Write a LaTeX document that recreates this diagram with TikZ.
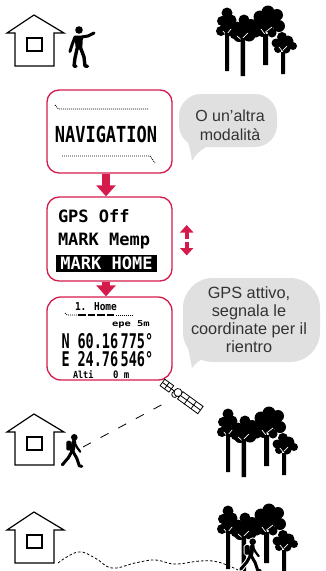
\documentclass[tikz,border=0pt]{standalone}
\usepackage{fontspec}
\setmainfont{Liberation Sans}
\newfontfamily\lcd{DejaVu Sans Mono}
\usepackage{graphicx}
\usetikzlibrary{arrows.meta}

\definecolor{alert}{HTML}{D51B4B}
\definecolor{cloud}{HTML}{E0E0E0}
\definecolor{speech}{HTML}{333333}

% walking hiker with backpack; #1 colour, #2 extra outline width
\newcommand\walkershape[2]{%
  \fill[#1] (0,0) circle ({3.3+#2});
  \draw[#1, line cap=round, line join=round, line width={4.6+2*#2}] (-0.3,4.5) -- (-2,13.5);
  \draw[#1, line cap=round, line join=round, line width={2.2+2*#2}] (0.3,5.5) -- (3,10.5) -- (6,14.5);
  \draw[#1, line cap=round, line join=round, line width={3+2*#2}] (-2,13.5) -- (-6,20.5) -- (-12,27.5);
  \draw[#1, line cap=round, line join=round, line width={3+2*#2}] (-1.5,14) -- (2.5,21) -- (5,28.5) -- (7.5,29);
  \filldraw[#1, rounded corners=1.5pt, line width={0.01+2*#2}] (-8,3.5) rectangle (-3,13);
}

\tikzset{
  screen/.style={draw=alert, line width=1.3pt, rounded corners=12pt, fill=white,
    minimum width=125pt, inner sep=0},
  lcdfont/.style={inner sep=0, outer sep=0, font=\lcd\bfseries\fontsize{#1}{#1}\selectfont},
  bubble/.style={fill=cloud, inner sep=0},
  saying/.style={inner sep=0, align=center, text=speech, font=\fontsize{16}{19}\selectfont},
  stepdown/.style={draw=alert, line width=8pt, -{Triangle[width=19pt,length=11pt]}},
  scroll/.style={draw=alert, line width=4pt, -{Triangle[width=13pt,length=7.5pt]}},
  pixeldots/.style={line width=0.9pt, dash pattern=on 0.9pt off 1.1pt},
  wall/.style={line width=1.2pt, line join=miter},
  signal/.style={line width=0.8pt, dash pattern=on 9pt off 11pt},
  trail/.style={line width=0.8pt, dash pattern=on 2.6pt off 2pt},
  twig/.style={white, line width=0.7pt, line cap=round},
  house/.pic={
    \draw[wall] (15,66) -- (15,33) -- (7,33) -- (34,15) -- (64,33) -- (54,33) -- (54,66) -- cycle;
    \draw[wall] (27,38) rectangle (42,51);
  },
  forest/.pic={
    % crowns
    \fill (10,8) circle (5.5) (5,16) circle (5) (14,15) circle (5.5)
          (4,26) circle (5) (12,25) circle (6) (18,21) circle (4) (10,18) circle (7);
    \fill (27,15) circle (5.5) (20,22) circle (5.5) (34,20) circle (6)
          (22,31) circle (6) (32,30) circle (6.5) (39,28) circle (4.5) (17,30) circle (4)
          (28,24) circle (8);
    \fill (51,7) circle (6.5) (43,12) circle (6.5) (60,10) circle (6)
          (40,21) circle (5) (50,20) circle (7) (62,21) circle (6)
          (55,28) circle (4.5) (45,28) circle (4) (52,15) circle (9);
    \fill (65,32) circle (5) (59,38) circle (4.5) (71,36) circle (5.5)
          (76,41) circle (4) (61,44) circle (4) (69,44) circle (4.5) (67,39) circle (6);
    % branches showing through the lower crowns
    \draw[twig] (10,31) -- (6,26) (10,29) -- (14,24);
    \draw[twig] (25.8,36) -- (20,31) (25.8,33) -- (31,28);
    \draw[twig] (48.5,30) -- (44,24) (48.5,27) -- (55,22);
    \draw[twig] (66,47) -- (62,42) (66,45) -- (70,41);
    % trunks
    \fill (8,28) rectangle (12,66)
          (23.7,33) rectangle (28,71)
          (46,29) rectangle (51,60)
          (64,47) rectangle (68,69);
  },
}

\begin{document}
\begin{tikzpicture}[x=1pt, y=-1pt]
\useasboundingbox (0,0) rectangle (325,571);

% ---------- top scene: at home, pointing at the woods ----------
\pic at (0,0) {house};
\begin{scope}[shift={(79,30)}]
  \fill (0,0) circle (3.8);
  \fill (-4.5,5.5) -- (4,5.5) -- (3.2,19.5) -- (-3.2,19.5) -- cycle;
  \draw[line width=3pt, line cap=round, line join=round] (3,7) -- (9,6) -- (15,3);
  \draw[line width=3pt, line cap=round, line join=round] (-4,7) -- (-7,15) -- (-9,21.5);
  \draw[line width=3.4pt, line cap=round, line join=round] (-2,19) -- (-4,28) -- (-5,36) -- (-3,36.3);
  \draw[line width=3.4pt, line cap=round, line join=round] (2,19) -- (5,27) -- (6,36) -- (8.5,36.3);
\end{scope}
\begin{scope}[shift={(217,5)}]
  \pic {forest};
\end{scope}

% ---------- device screens ----------
\node[screen, minimum height=83pt] (nav) at (109.5,131.5) {};
\node[lcdfont=17] (navtext) at (106,134.5) {\scalebox{1}[1.3]{NAVIGATION}};
\draw[pixeldots] (55,105) -- (58.5,109) -- (148,109);
\draw[pixeldots] (62,156) -- (150,156) -- (155,163);

\node[screen, minimum height=84pt] (menu) at (109.5,239) {};
\node[lcdfont=17, anchor=base west] (gpsoff) at (58,222.3) {GPS Off};
\node[lcdfont=17, anchor=base west] (markmemp) at (58,245.7) {MARK Memp};
\node[lcdfont=17, fill=black, text=white, minimum width=101pt, minimum height=17pt,
      anchor=west] (markhome) at (56,263.5) {MARK HOME};

\node[screen, minimum height=83pt, rounded corners=14pt] (gps) at (109.5,338.5) {};
\node[lcdfont=9.5, anchor=base west] (target) at (75,310) {\scalebox{1}[1.15]{1. Home}};
\draw[pixeldots] (65,313) -- (67,315) -- (78,315);
\draw[line width=2.5pt, dash pattern=on 7.5pt off 2pt] (78,315) -- (115,315);
\draw[pixeldots] (115.5,315) -- (133,315);
\node[lcdfont=9.5, anchor=base west] (epe) at (112,326.7) {\scalebox{1.1}[0.85]{epe 5m}};
\node[lcdfont=13.5, anchor=base west] (north) at (61.5,348) {\scalebox{1}[1.5]{N}};
\node[lcdfont=13.5, anchor=base west] (lat) at (77.5,348) {\scalebox{1}[1.5]{60.16\hspace{2.5pt}775°}};
\node[lcdfont=13.5, anchor=base west] (east) at (61.5,366.5) {\scalebox{1}[1.5]{E}};
\node[lcdfont=13.5, anchor=base west] (lon) at (77.5,366.5) {\scalebox{1}[1.5]{24.76\hspace{2.5pt}546°}};
\node[lcdfont=8.5, anchor=base west] (alti) at (73,378.5) {\scalebox{1}[1.15]{Alti}};
\node[lcdfont=9, anchor=base west] (zero) at (113,378.5) {\scalebox{1}[1.15]{0 m}};

% steps between screens
\draw[stepdown] ([xshift=-3.5pt]nav.south) -- ([xshift=-3.5pt]menu.north);
\draw[stepdown] ([xshift=-3.5pt]menu.south) -- ([xshift=-3.5pt]gps.north);
\coordinate (scrollup) at (186.7,225);
\coordinate (scrolldown) at (186.7,255.5);
\draw[scroll] (186.7,238.5) -- (scrollup);
\draw[scroll] (186.7,241.5) -- (scrolldown);

% ---------- speech bubbles ----------
\node[bubble, rounded corners=22pt, minimum width=98pt, minimum height=53pt] (say1) at (228,120.5) {};
\fill[cloud] (186,138) .. controls (190,148) .. (192,161) .. controls (197,153) .. (209,145) -- cycle;
\node[saying] (say1text) at (230,125) {O un’altra\\modalità};

\node[bubble, rounded corners=30pt, minimum width=137pt, minimum height=84pt] (say2) at (251.5,320) {};
\fill[cloud] (187,343) .. controls (190,357) .. (192,368) .. controls (198,361) .. (208,356) -- cycle;
\node[saying, font=\fontsize{16.3}{18}\selectfont] (say2text) at (249,320)
  {GPS attivo,\\segnala le\\coordinate per il\\rientro};

% ---------- middle scene: walking out, position fixed by satellite ----------
\pic at (0,399) {house};
\begin{scope}[shift={(74.3,437.3)}]
  \walkershape{black}{0}
\end{scope}
\begin{scope}[shift={(218,406)}, scale=0.87]
  \pic {forest};
\end{scope}
\coordinate (walkerA) at (83,447);
\coordinate (satellite) at (165,403);
\draw[signal] (walkerA) -- (satellite);
\begin{scope}[shift={(177,393)}, rotate=-36, line width=0.8pt]
  \filldraw[fill=white] (-18,-4) rectangle (-7,4);
  \draw (-12.5,-4) -- (-12.5,4) (-18,0) -- (-7,0);
  \draw (-7,0) -- (-3,0);
  \filldraw[fill=white] (4,-4.5) rectangle (29,4.5);
  \draw (12.3,-4.5) -- (12.3,4.5) (20.6,-4.5) -- (20.6,4.5) (4,0) -- (29,0);
  \filldraw[fill=white] (-1,2.5) circle (3);
  \filldraw[fill=white] (0.5,-1) circle (4);
\end{scope}

% ---------- bottom scene: the way back home ----------
\pic at (0,497) {house};
\begin{scope}[shift={(218,503)}, scale=0.87]
  \pic {forest};
\end{scope}
\draw[trail] plot[smooth, tension=0.7] coordinates
  {(58,563) (78,552) (95,558) (112,568) (135,563) (155,560) (175,564) (200,561) (218,562) (238,570)};
\begin{scope}[shift={(252.7,541.7)}]
  \walkershape{white}{1}
  \walkershape{black}{0}
\end{scope}

\end{tikzpicture}
\end{document}
